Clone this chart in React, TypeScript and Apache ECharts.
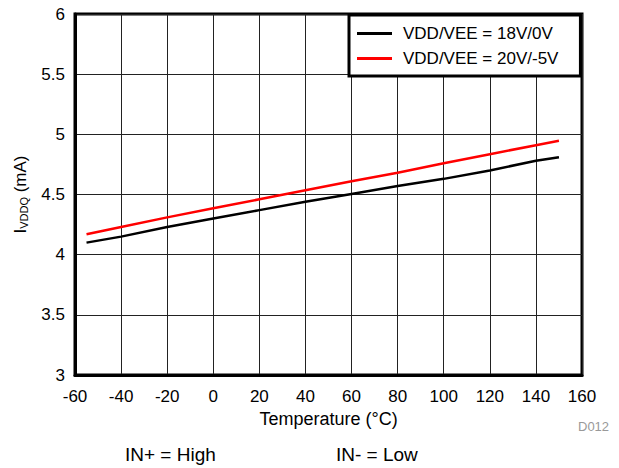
import React, { useEffect, useRef } from "react";
import * as echarts from "echarts";

const temps = [-55, -40, -20, 0, 20, 40, 60, 80, 100, 120, 140, 150];
const iddq18 = [4.10, 4.15, 4.23, 4.30, 4.37, 4.44, 4.505, 4.57, 4.63, 4.70, 4.78, 4.81];
const iddq20 = [4.17, 4.23, 4.31, 4.385, 4.46, 4.535, 4.61, 4.68, 4.76, 4.835, 4.91, 4.947];
const seriesNames = ["VDD/VEE = 18V/0V", "VDD/VEE = 20V/-5V"];
const xTitle = "Temperature (°C)";
const note = "D012";
const cond1 = "IN+ = High";
const cond2 = "IN- = Low";

const FONT = "Liberation Sans, Arial, Helvetica, sans-serif";

export default function App() {
  const ref = useRef<HTMLDivElement>(null);
  useEffect(() => {
    if (!ref.current) return;
    const chart = echarts.init(ref.current, undefined, { renderer: "svg" });
    chart.setOption({
      animation: false,
      backgroundColor: "#fff",
      textStyle: { fontFamily: FONT },
      grid: {
        left: 75, right: 37, top: 14, bottom: 93,
        show: true, borderColor: "#000", borderWidth: 3,
      },
      legend: {
        orient: "vertical",
        left: 349, top: 15,
        backgroundColor: "#fff",
        borderColor: "#000",
        borderWidth: 3,
        borderRadius: 0,
        padding: [10, 22, 9, 8],
        itemWidth: 35,
        itemHeight: 3,
        itemGap: 8,
        textStyle: { fontSize: 17, color: "#000", fontFamily: FONT, padding: [0, 0, 0, 6] },
        data: seriesNames.map((n) => ({ name: n, icon: "rect" })),
      },
      xAxis: {
        type: "value",
        min: -60, max: 160, interval: 20,
        name: xTitle,
        nameLocation: "middle",
        nameGap: 32,
        nameTextStyle: { fontSize: 18, color: "#000", fontFamily: FONT },
        axisLine: { show: true, onZero: false, lineStyle: { color: "#000", width: 3 } },
        axisTick: { show: false },
        axisLabel: { fontSize: 17, color: "#000", margin: 13, fontFamily: FONT },
        splitLine: { show: true, lineStyle: { color: "#222", width: 1 } },
      },
      yAxis: {
        type: "value",
        min: 3, max: 6, interval: 0.5,
        name: "{a|I}{b|VDDQ}{a| (mA)}",
        nameLocation: "middle",
        nameGap: 46,
        nameRotate: 90,
        nameTextStyle: {
          color: "#000",
          fontFamily: FONT,
          rich: {
            a: { fontSize: 17, color: "#000", fontFamily: FONT },
            b: { fontSize: 11, color: "#000", fontFamily: FONT, padding: [7, 0, 0, 0] },
          },
        },
        axisLine: { show: true, onZero: false, lineStyle: { color: "#000", width: 3 } },
        axisTick: { show: false },
        axisLabel: { fontSize: 17, color: "#000", margin: 10, fontFamily: FONT },
        splitLine: { show: true, lineStyle: { color: "#222", width: 1 } },
      },
      series: [
        {
          name: seriesNames[0], type: "line", symbol: "none",
          data: temps.map((t, i) => [t, iddq18[i]]),
          lineStyle: { color: "#000", width: 2.5 },
          itemStyle: { color: "#000" },
        },
        {
          name: seriesNames[1], type: "line", symbol: "none",
          data: temps.map((t, i) => [t, iddq20[i]]),
          lineStyle: { color: "#ff0000", width: 2.5 },
          itemStyle: { color: "#ff0000" },
        },
      ],
      graphic: [
        { type: "text", left: 578, top: 420, style: { text: note, fontSize: 13, fill: "#999", fontFamily: FONT } },
        { type: "text", left: 125, top: 445, style: { text: cond1, fontSize: 19, fill: "#000", fontFamily: FONT } },
        { type: "text", left: 336, top: 445, style: { text: cond2, fontSize: 19, fill: "#000", fontFamily: FONT } },
      ],
    });
    return () => chart.dispose();
  }, []);
  return (
    <div
      ref={ref}
      style={{ position: "fixed", left: 0, top: 0, width: 619, height: 468 }}
    />
  );
}
